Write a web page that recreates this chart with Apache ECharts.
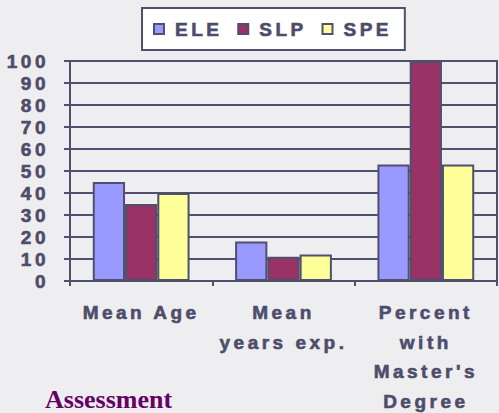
<!DOCTYPE html>
<html>
<head>
<meta charset="utf-8">
<script src="https://cdn.jsdelivr.net/npm/echarts@6/dist/echarts.min.js"></script>
<style>
html,body{margin:0;padding:0;background:#eeeef0;}
#c{width:499px;height:413px;}
</style>
</head>
<body>
<div id="c"></div>
<script>
var categories = ["Mean Age", "Mean\nyears exp.", "Percent\nwith\nMaster's\nDegree"];
var seriesNames = ["ELE", "SLP", "SPE"];
var ele = [45, 18, 53];
var slp = [35, 11, 100];
var spe = [40, 12, 53];
var yTicks = [0, 10, 20, 30, 40, 50, 60, 70, 80, 90, 100];
var colors = ["#9999ff", "#993366", "#ffff99"];

var ink = "#4f4f6e";
var txt = "#4d4d6b";
var font = "Liberation Sans";

var chart = echarts.init(document.getElementById('c'), null, { renderer: 'svg' });
function bar(name, data, color) {
  return {
    name: name, type: 'bar', data: data,
    barGap: '0%', barCategoryGap: '32%',
    itemStyle: { color: color, borderColor: ink, borderWidth: 2 },
    emphasis: { disabled: true }
  };
}
var labelStroke = { textBorderColor: txt, textBorderWidth: 0.6 };
chart.setOption({
  backgroundColor: '#eeeef0',
  animation: false,
  legend: {
    data: seriesNames,
    left: 142, top: 8,
    padding: [11, 23, 11, 11],
    itemGap: 25,
    itemWidth: 10, itemHeight: 10,
    icon: 'rect',
    backgroundColor: '#ffffff',
    borderColor: ink, borderWidth: 2,
    textStyle: Object.assign({ fontFamily: font, fontWeight: 'bold', fontSize: 19, color: txt, lineHeight: 20, padding: [0, 0, 0, 6] }, labelStroke)
  },
  grid: {
    left: 70, right: 2, top: 61, bottom: 132,
    outerBoundsMode: 'none', containLabel: false,
    show: true, borderColor: ink, borderWidth: 2, backgroundColor: 'transparent'
  },
  xAxis: {
    type: 'category', data: categories,
    axisLine: { lineStyle: { color: ink, width: 2 } },
    axisTick: { show: true, length: 5, lineStyle: { color: ink, width: 2 } },
    axisLabel: Object.assign({ interval: 0, margin: 17, fontFamily: font, fontWeight: 'bold', fontSize: 19, color: txt, lineHeight: 29.5, align: 'center' }, labelStroke)
  },
  yAxis: {
    type: 'value', min: 0, max: 100, interval: 10,
    axisLine: { show: true, lineStyle: { color: ink, width: 2 } },
    axisTick: { show: true, length: 6, lineStyle: { color: ink, width: 2 } },
    splitLine: { lineStyle: { color: ink, width: 2 } },
    axisLabel: Object.assign({ margin: 21, fontFamily: font, fontWeight: 'bold', fontSize: 19, color: txt,
      formatter: function (v) { return yTicks.indexOf(v) >= 0 ? String(v) : ''; } }, labelStroke)
  },
  series: [bar(seriesNames[0], ele, colors[0]), bar(seriesNames[1], slp, colors[1]), bar(seriesNames[2], spe, colors[2])],
  graphic: [{
    type: 'text', left: 45, top: 386,
    style: { text: 'Assessment', fontFamily: 'Liberation Serif', fontWeight: 'bold', fontSize: 26, fill: '#660066' }
  }]
});
function spaceText() {
  var texts = document.querySelectorAll('#c svg text');
  for (var i = 0; i < texts.length; i++) {
    if (texts[i].textContent.indexOf('Assessment') < 0) {
      texts[i].style.letterSpacing = '3.5px';
    }
  }
}
spaceText();
chart.on('finished', spaceText);
</script>
</body>
</html>
